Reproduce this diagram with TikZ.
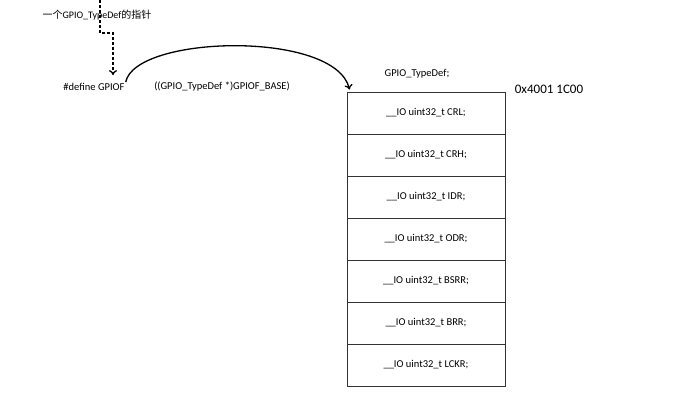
\documentclass[tikz,border=0pt]{standalone}
\usepackage{fontspec}
\setmainfont{Carlito}
\newfontfamily\cjk{Noto Sans CJK SC}
\usetikzlibrary{arrows.meta}
\tikzset{
  lbl/.style={inner sep=1pt, font=\fontsize{10.5}{12}\selectfont},
  regbox/.style={draw=black!80, line width=0.8pt, minimum width=158pt, minimum height=42pt, inner sep=0pt, font=\fontsize{10.5}{12}\selectfont},
}
\begin{document}
\begin{tikzpicture}[x=1pt, y=-1pt]
\useasboundingbox (0,0) rectangle (673,408);
\node[lbl, font=\fontsize{10}{12}\selectfont] (note) at (97,15) {{\cjk 一个}GPIO\_TypeDef{\cjk 的指针}};
\node[lbl] (define) at (94,87) {\#define GPIOF};
\node[lbl] (cast) at (222,87) {((GPIO\_TypeDef *)GPIOF\_BASE)};
\node[lbl] (tdef) at (417,74) {GPIO\_TypeDef;};
\node[lbl, font=\fontsize{13}{15}\selectfont] (addr) at (549,89) {0x4001 1C00};
\foreach \reg [count=\i] in {CRL,CRH,IDR,ODR,BSRR,BRR,LCKR}
  \node[regbox] (row\i) at (426, {71+42*\i}) {\_\_IO uint32\_t \reg;};
\coordinate (ptrtop) at (100,0);
\draw[line width=1.3pt, dash pattern=on 3pt off 2pt, -{To[length=5pt,width=8pt]}] (ptrtop) -- (100,33) -| ([xshift=19pt,yshift=7pt]define.north);
\draw[line width=1.3pt, -{To[length=5pt,width=8pt]}] (define.north east) .. controls (135,35) and (335,30) .. ([xshift=3pt,yshift=2pt]row1.north west);
\end{tikzpicture}
\end{document}
